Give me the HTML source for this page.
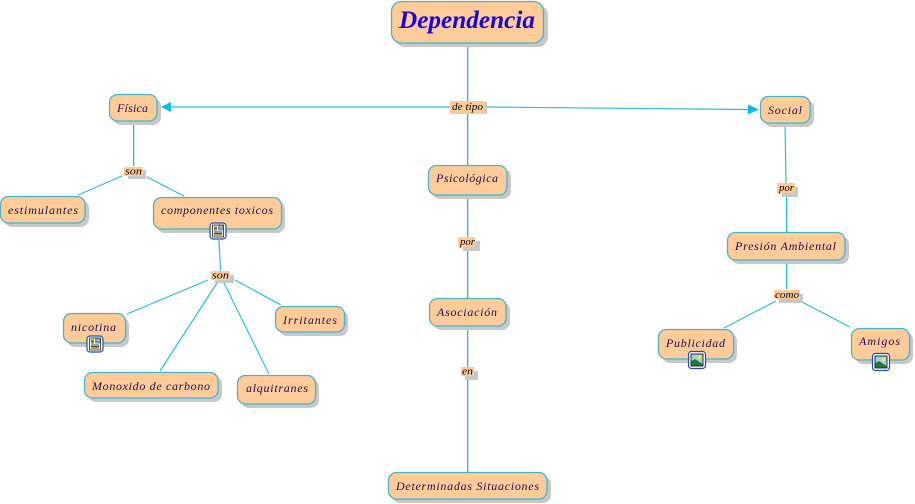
<!DOCTYPE html>
<html><head><meta charset="utf-8"><style>
html,body{margin:0;padding:0;background:#fff;width:915px;height:504px;overflow:hidden}
svg{display:block}
text{font-family:"Liberation Serif",serif;font-style:italic;fill:#1f0a50;font-size:12px;text-anchor:start}
.l{fill:#000;font-size:10px}
.n{fill:#ffcc99;stroke:#45b5c8;stroke-width:1.3}
.s{fill:#c8c8c8}
.c{stroke:#28bcd8;stroke-width:1.15;fill:none}
.v{fill:#1fbad6}
</style></head><body>
<svg width="915" height="504" viewBox="0 0 915 504" xmlns="http://www.w3.org/2000/svg">
<defs>
<g id="doc"><rect x="-8" y="-8" width="16" height="16" rx="3" fill="#fff" stroke="#1f4fa8" stroke-width="1.2"/><rect x="-5.500" y="-6" width="11" height="12" fill="#fffbd0" stroke="#000" stroke-width=".7"/><rect x="0" y="-5.500" width="5" height="5" fill="#6a9ac8"/><rect x="2" y="-5" width="2" height="2" fill="#f0b040"/><path d="M-4-4h3M-4-2.500h3M-4-1h3M-4 1h8M-4 2.500h8M-4 4h8" stroke="#111" stroke-width=".7" fill="none"/></g>
<g id="img"><rect x="-8.500" y="-8.500" width="17" height="17" rx="3" fill="#fff" stroke="#1f4fa8" stroke-width="1.2"/><rect x="-6" y="-6" width="12" height="12" fill="#a8cce4" stroke="#000" stroke-width=".8"/><path d="M-5.500 5.500V1L-2-1 5.500 4v1.500z" fill="#1f7a3a"/><circle cx="2.500" cy="-2.500" r="1.800" fill="#ffe860"/></g>
</defs>
<g class="v">
<rect x="467" y="44" width="1.300" height="121"/>
<rect x="467" y="195" width="1.300" height="103"/>
<rect x="467" y="326" width="1.300" height="146"/>
<rect x="133" y="122" width="1.300" height="44"/>
<rect x="786" y="197" width="1.300" height="35"/>
<rect x="786" y="261" width="1.300" height="28"/>
</g>
<g class="c">
<path d="M170 107H450M484 107L748 109.500"/>
<path d="M122 176L78 195M147 177L184 196"/>
<path d="M219 240L220.500 271M208 280L127 314M217 283L160 371M224 283L269 374M235 280L281 305"/>
<path d="M785 124L786 183M776 301L724 328M802 302L850 327"/>
</g>
<polygon points="161,107 171,102 171,112" fill="#00bfee"/>
<polygon points="759,109.500 748,104.500 748,114.500" fill="#00bfee"/>

<g class="s">
<rect x="395" y="5" width="153" height="42" rx="10"/>
<rect x="113" y="98" width="48" height="27" rx="8"/>
<rect x="4" y="200" width="85" height="27" rx="8"/>
<rect x="157" y="201" width="128" height="32" rx="8"/>
<rect x="432" y="169" width="79" height="30" rx="8"/>
<rect x="764" y="100" width="50" height="27" rx="8"/>
<rect x="731" y="236" width="118" height="28" rx="8"/>
<rect x="433" y="302" width="77" height="28" rx="8"/>
<rect x="392" y="476" width="159" height="27" rx="8"/>
<rect x="67" y="317" width="62" height="30" rx="8"/>
<rect x="88" y="376" width="134" height="26" rx="8"/>
<rect x="241" y="379" width="78" height="29" rx="8"/>
<rect x="279" y="310" width="69" height="26" rx="8"/>
<rect x="662" y="333" width="75" height="30" rx="8"/>
<rect x="855" y="332" width="58" height="32" rx="8"/>
<rect x="128" y="170" width="18" height="9"/>
<rect x="215" y="275" width="19" height="8"/>
<rect x="463" y="102" width="24" height="12"/>
<rect x="782" y="187" width="16" height="10"/>
<rect x="463" y="241" width="17" height="10"/>
<rect x="465" y="371" width="13" height="9"/>
<rect x="779" y="294" width="24" height="9"/>
</g>
<g class="n">
<rect x="391.500" y="1.500" width="152" height="41.500" rx="10"/>
<rect x="109.500" y="94.500" width="47.500" height="26.500" rx="8"/>
<rect x=".5" y="196.500" width="84.500" height="26.500" rx="8"/>
<rect x="153.500" y="197.500" width="128" height="31.500" rx="8"/>
<rect x="428.500" y="165.500" width="78.500" height="29.500" rx="8"/>
<rect x="760.500" y="96.500" width="49.500" height="26.500" rx="8"/>
<rect x="727.500" y="232.500" width="117.500" height="27.500" rx="8"/>
<rect x="429.500" y="298.500" width="76.500" height="27.500" rx="8"/>
<rect x="388.500" y="472.500" width="158.500" height="26.500" rx="8"/>
<rect x="63.500" y="313.500" width="62" height="29.500" rx="8"/>
<rect x="84.500" y="372.500" width="133.500" height="25.500" rx="8"/>
<rect x="237.500" y="375.500" width="78" height="28.500" rx="8"/>
<rect x="275.500" y="306.500" width="69" height="25.500" rx="8"/>
<rect x="658.500" y="329.500" width="75" height="29.500" rx="8"/>
<rect x="851.500" y="328.500" width="58" height="31.500" rx="8"/>
</g>
<g fill="#ffcc99">
<rect x="124" y="167" width="19" height="9"/>
<rect x="211" y="271" width="19" height="9"/>
<rect x="450" y="101" width="35" height="13"/>
<rect x="777" y="183" width="18" height="10"/>
<rect x="458" y="237" width="17" height="10"/>
<rect x="461" y="367" width="13" height="9"/>
<rect x="774" y="290" width="26" height="9"/>
</g>
<text x="399" y="28" textLength="136" lengthAdjust="spacingAndGlyphs" style="font-size:25px;font-weight:bold;fill:#1a00d8">Dependencia</text>
<text x="117" y="112" textLength="31" lengthAdjust="spacing">Física</text>
<text x="8" y="214" textLength="70" lengthAdjust="spacing">estimulantes</text>
<text x="161" y="214" textLength="112" lengthAdjust="spacing">componentes toxicos</text>
<text x="436" y="182" textLength="62" lengthAdjust="spacing">Psicológica</text>
<text x="768" y="114" textLength="34" lengthAdjust="spacing">Social</text>
<text x="735" y="250" textLength="101" lengthAdjust="spacing">Presión Ambiental</text>
<text x="437" y="316" textLength="60" lengthAdjust="spacing">Asociación</text>
<text x="396" y="490" textLength="143" lengthAdjust="spacing">Determinadas Situaciones</text>
<text x="71" y="331" textLength="45" lengthAdjust="spacing">nicotina</text>
<text x="92" y="390" textLength="118" lengthAdjust="spacing">Monoxido de carbono</text>
<text x="246" y="392" textLength="62" lengthAdjust="spacing">alquitranes</text>
<text x="283" y="324" textLength="54" lengthAdjust="spacing">Irritantes</text>
<text x="666" y="347" textLength="59" lengthAdjust="spacing">Publicidad</text>
<text x="859" y="345" textLength="41" lengthAdjust="spacing">Amigos</text>
<text class="l" x="125" y="174.500" textLength="17" lengthAdjust="spacingAndGlyphs">son</text>
<text class="l" x="212" y="278.500" textLength="17" lengthAdjust="spacingAndGlyphs">son</text>
<text class="l" x="452" y="110" textLength="31" lengthAdjust="spacingAndGlyphs">de tipo</text>
<text class="l" x="779" y="191" textLength="15" lengthAdjust="spacingAndGlyphs">por</text>
<text class="l" x="460" y="245" textLength="15" lengthAdjust="spacingAndGlyphs">por</text>
<text class="l" x="462" y="374.500" textLength="11" lengthAdjust="spacingAndGlyphs">en</text>
<text class="l" x="775" y="298" textLength="24" lengthAdjust="spacingAndGlyphs">como</text>
<use href="#doc" x="218" y="231"/>
<use href="#doc" x="95" y="344"/>
<use href="#img" x="697" y="360"/>
<use href="#img" x="881" y="362"/>
</svg>
</body></html>
